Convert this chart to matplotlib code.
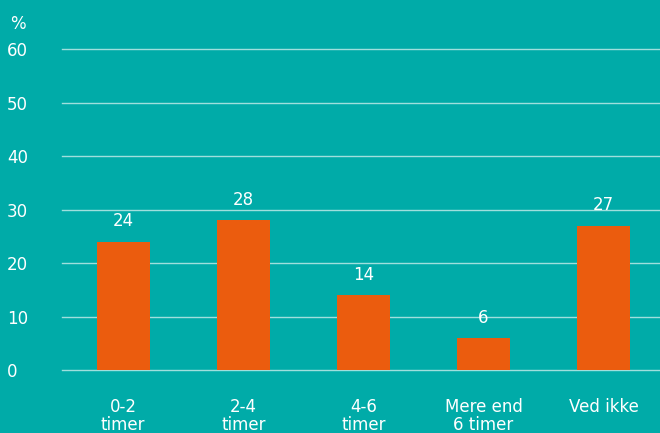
import numpy as np
from matplotlib import pyplot as plt

# data
kategorier = ['0-2\ntimer', '2-4\ntimer', '4-6\ntimer', 'Mere end\n6 timer', 'Ved ikke']
andel = [24, 28, 14, 6, 27]

bg = '#00aba8'
orange = '#eb5c0e'
plt.rcParams['font.family'] = ['DejaVu Sans']

fig = plt.figure(figsize=(6.6, 4.33), dpi=100, facecolor=bg)
ax = fig.add_axes([62 / 660, 1 - 370 / 433, 598 / 660, 321 / 433])
ax.set_facecolor(bg)

x = np.arange(len(kategorier))
ax.bar(x, andel, width=0.44, color=orange, zorder=3)

# værdier over søjlerne
for xi, v in zip(x, andel):
    ax.text(xi, v + 2.1, str(v), ha='center', va='bottom', color='white', fontsize=12)

ax.set_ylim(0, 60)
ax.set_xlim(-0.51, 4.47)
ax.set_yticks(range(0, 61, 10))
ax.grid(axis='y', color='#9fdfdd', linewidth=1, zorder=1)
for gl in ax.get_ygridlines():
    gl.set_clip_on(False)
ax.set_xticks(x)
ax.set_xticklabels(kategorier, color='white', fontsize=12, linespacing=1.05)
ax.tick_params(axis='x', length=0, pad=20)
ax.tick_params(axis='y', length=0, pad=39.5, colors='white', labelsize=12)
for lbl in ax.get_yticklabels():
    lbl.set_horizontalalignment('left')
for s in ax.spines.values():
    s.set_visible(False)

fig.text(18 / 660, 1 - 24 / 433, '%', color='white', fontsize=12, ha='center', va='center')

fig.savefig('out.png', dpi=100, facecolor=bg)
